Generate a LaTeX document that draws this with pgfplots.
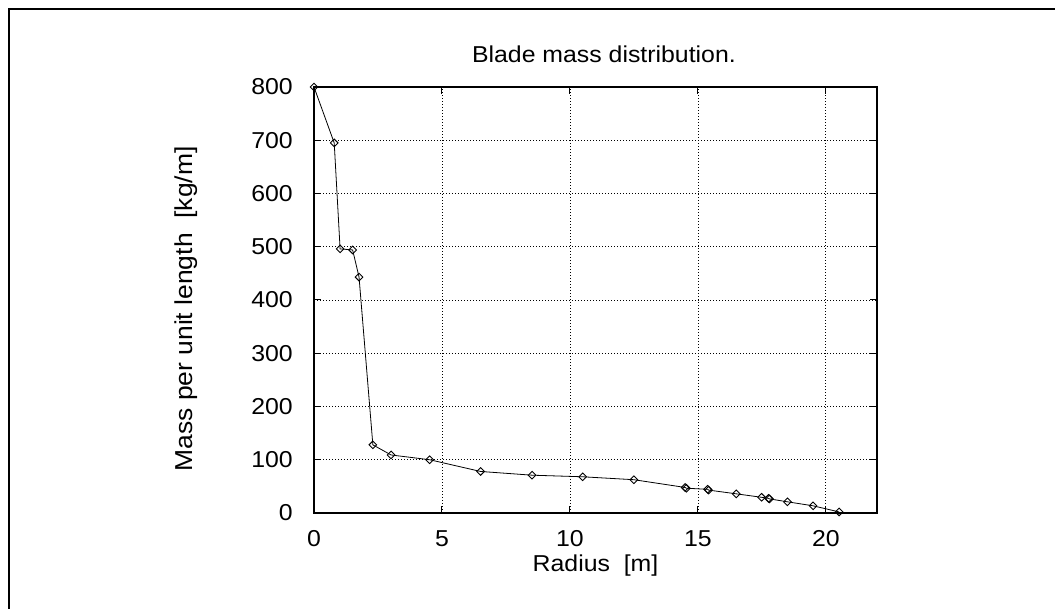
\documentclass[border=0pt]{standalone}
\usepackage{fontspec}
\setmainfont{Liberation Sans}[FakeStretch=1.08]
\usepackage{pgfplots}
\pgfplotsset{compat=1.18}

\begin{document}
\fontsize{23}{27}\selectfont
\begin{tikzpicture}[x=1pt,y=1pt,font=\fontsize{23}{27}\selectfont]
\useasboundingbox (0,0) rectangle (1055,609);
% outer frame, only its left and top edges fall inside the picture
\draw[line width=2pt] (9,-5) -- (9,600) -- (1065,600);
\begin{axis}[
    at={(314pt,96pt)}, anchor=south west,
    scale only axis,
    width=563pt, height=426pt,
    xmin=0, xmax=22, ymin=0, ymax=800,
    xtick={0,5,10,15,20},
    ytick={0,100,...,800},
    tick align=inside,
    major tick length=7pt,
    tick style={black, line width=1pt},
    axis line style={line width=1.3pt},
    grid=major,
    major grid style={black, line width=0.7pt, dash pattern=on 1pt off 2pt},
    /pgf/number format/assume math mode=true,
    tick label style={inner sep=0pt},
    xticklabel style={yshift=-17.5pt},
    yticklabel style={xshift=-21pt},
    title={Blade mass distribution.},
    title style={at={(axis description cs:0.515,1.0434)}, anchor=base, inner sep=0pt},
    xlabel={Radius\ \ [m]},
    xlabel style={at={(axis description cs:0.5,-0.1373)}, anchor=base, inner sep=0pt},
    ylabel={Mass per unit length\ \ [kg/m]},
    ylabel style={at={(axis description cs:-0.2158,0.479)}, anchor=base, inner sep=0pt,
                  font=\fontsize{24.5}{29}\selectfont},
    clip=false,
]
\addplot[black, line width=0.8pt, mark=square, mark size=2.7pt,
         mark options={solid, rotate=45, fill=white, line width=0.9pt}] coordinates {
    (0,800) (0.79,695) (1.02,496) (1.51,494) (1.76,443) (2.30,128)
    (3.01,109) (4.52,100) (6.51,78) (8.52,71) (10.5,68) (12.5,62.5)
    (14.5,48) (14.55,46.5) (15.38,44.5) (15.42,43) (16.5,36)
    (17.49,29.5) (17.76,27.5) (17.8,26.5) (18.5,21) (19.5,13.5) (20.52,2)
};
\end{axis}
\end{tikzpicture}
\end{document}
